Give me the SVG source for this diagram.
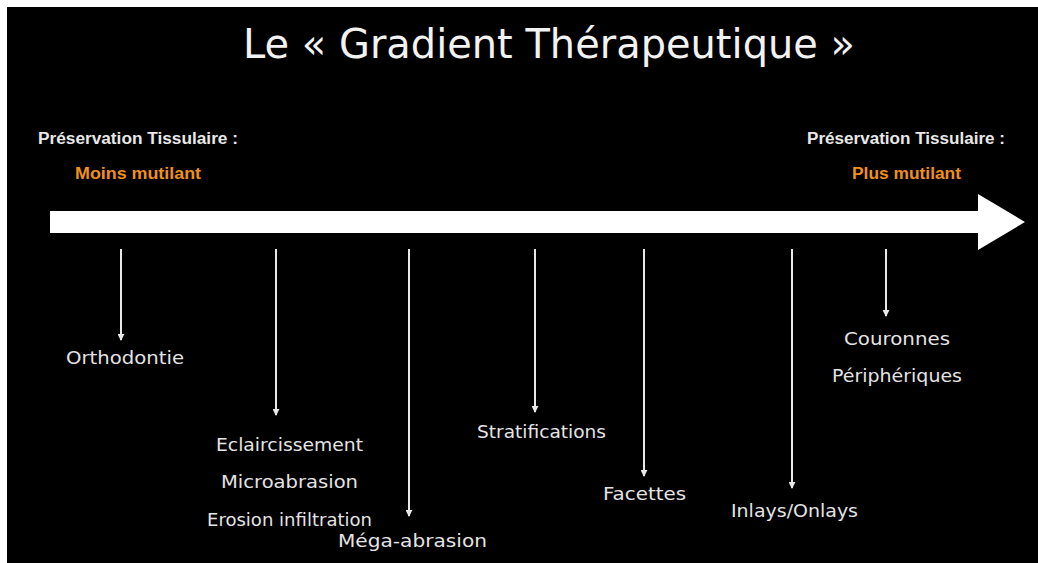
<svg xmlns="http://www.w3.org/2000/svg" width="1038" height="563" viewBox="0 0 1038 563">
<defs>
<style>
.lbl{font-family:"DejaVu Sans","Liberation Sans",sans-serif;font-size:17px;fill:#e4e4e4}
.hd{font-family:"Liberation Sans",Arial,sans-serif;font-size:16px;font-weight:bold;fill:#e8e8e8}
.or{font-family:"Liberation Sans",Arial,sans-serif;font-size:16px;font-weight:bold;fill:#f0901c}
.ttl{font-family:"DejaVu Sans","Liberation Sans",sans-serif;font-size:41px;font-weight:normal;fill:#f2f2f2}
.vl{stroke:#e8e8e8;stroke-width:2;fill:none;marker-end:url(#ah)}
</style>
<marker id="ah" viewBox="0 0 8 8" refX="7" refY="4" markerWidth="7" markerHeight="7" markerUnits="userSpaceOnUse" orient="auto">
<path d="M0,0 L8,4 L0,8 Z" fill="#e8e8e8"/>
</marker>
</defs>
<rect x="0" y="0" width="1038" height="563" fill="#ffffff"/>
<rect x="7" y="7" width="1031" height="556" fill="#000000"/>
<g id="title">
<text class="ttl" x="243" y="58" textLength="612" lengthAdjust="spacingAndGlyphs">Le « Gradient Thérapeutique »</text>
</g>
<g id="left-header">
<text class="hd" x="38" y="144" textLength="200" lengthAdjust="spacingAndGlyphs">Préservation Tissulaire :</text>
<text class="or" x="75" y="179" textLength="126" lengthAdjust="spacingAndGlyphs">Moins mutilant</text>
</g>
<g id="right-header">
<text class="hd" x="807" y="144" textLength="198" lengthAdjust="spacingAndGlyphs">Préservation Tissulaire :</text>
<text class="or" x="852" y="179" textLength="109" lengthAdjust="spacingAndGlyphs">Plus mutilant</text>
</g>
<g id="main-arrow">
<path d="M50,211 L978,211 L978,194 L1025,222 L978,250 L978,233 L50,233 Z" fill="#ffffff"/>
</g>
<g id="connectors">
<line class="vl" x1="121" y1="249" x2="121" y2="340"/>
<line class="vl" x1="276" y1="249" x2="276" y2="415"/>
<line class="vl" x1="409" y1="249" x2="409" y2="516"/>
<line class="vl" x1="535" y1="249" x2="535" y2="412"/>
<line class="vl" x1="644" y1="249" x2="644" y2="476"/>
<line class="vl" x1="792" y1="249" x2="792" y2="488"/>
<line class="vl" x1="886" y1="249" x2="886" y2="316"/>
</g>
<g id="orthodontie">
<text class="lbl" x="66" y="364" textLength="118" lengthAdjust="spacingAndGlyphs">Orthodontie</text>
</g>
<g id="eclaircissement">
<text class="lbl" x="216" y="451" textLength="147" lengthAdjust="spacingAndGlyphs">Eclaircissement</text>
<text class="lbl" x="221" y="488" textLength="137" lengthAdjust="spacingAndGlyphs">Microabrasion</text>
<text class="lbl" x="207" y="526" textLength="165" lengthAdjust="spacingAndGlyphs">Erosion infiltration</text>
</g>
<g id="mega-abrasion">
<text class="lbl" x="338" y="547" textLength="149" lengthAdjust="spacingAndGlyphs">Méga-abrasion</text>
</g>
<g id="stratifications">
<text class="lbl" x="477" y="438" textLength="129" lengthAdjust="spacingAndGlyphs">Stratifications</text>
</g>
<g id="facettes">
<text class="lbl" x="603" y="500" textLength="83" lengthAdjust="spacingAndGlyphs">Facettes</text>
</g>
<g id="inlays">
<text class="lbl" x="731" y="517" textLength="127" lengthAdjust="spacingAndGlyphs">Inlays/Onlays</text>
</g>
<g id="couronnes">
<text class="lbl" x="844" y="345" textLength="106" lengthAdjust="spacingAndGlyphs">Couronnes</text>
<text class="lbl" x="832" y="382" textLength="130" lengthAdjust="spacingAndGlyphs">Périphériques</text>
</g>
</svg>
